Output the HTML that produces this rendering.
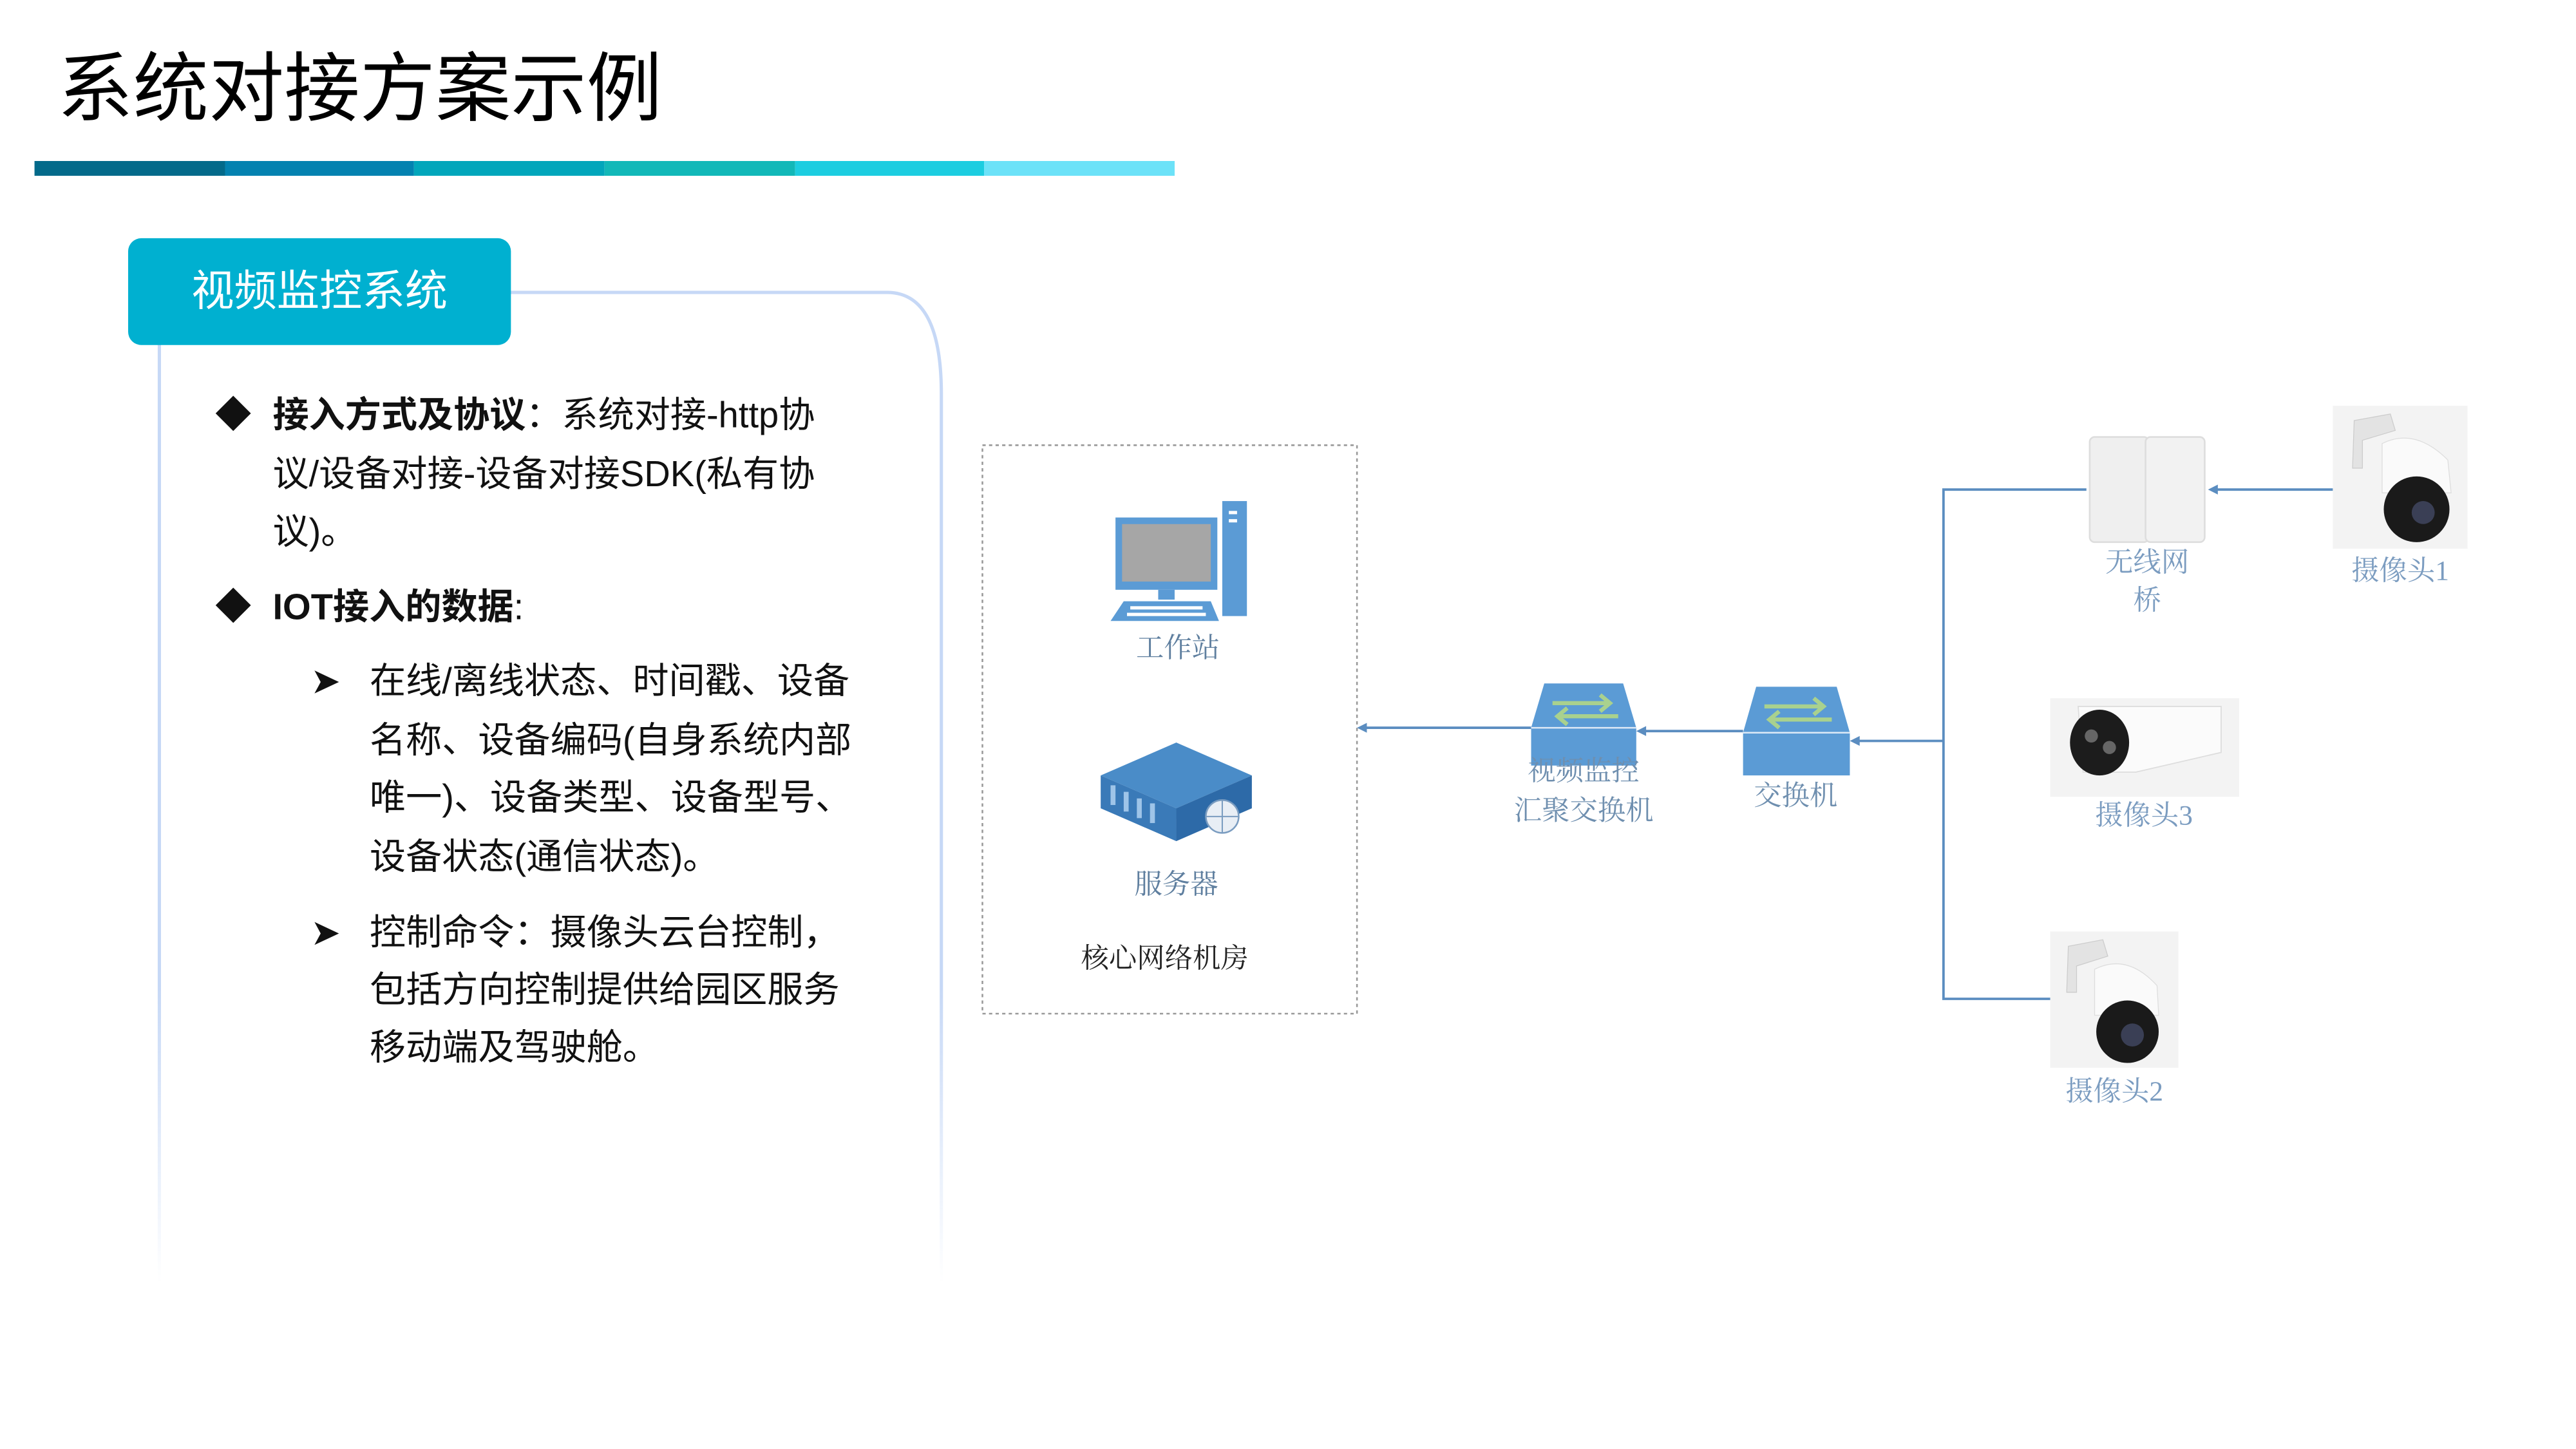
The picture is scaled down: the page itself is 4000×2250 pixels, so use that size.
<!DOCTYPE html>
<html><head><meta charset="utf-8">
<style>
html,body{margin:0;padding:0;background:#fff;width:4000px;height:2250px;overflow:hidden}
#c{position:absolute;left:0;top:0;width:1555px;height:875px;transform:scale(2.551);transform-origin:0 0;font-family:"Liberation Sans","Noto Sans CJK SC",sans-serif}
.a{position:absolute;white-space:nowrap}
.t{font-size:22px;color:#111;line-height:26px}
.lb{font-family:"Liberation Serif","Noto Serif CJK SC",serif;font-size:17px;color:#7b9cc0;text-align:center;line-height:22px}
</style></head><body><div id="c">
<div class="a" style="left:35px;top:26px;font-size:46px;line-height:56px;color:#000">系统对接方案示例</div>
<div class="a" style="left:21px;top:98px;height:9px;width:694px;display:flex">
<div style="flex:1;background:#036A8A"></div><div style="flex:1;background:#0382B0"></div><div style="flex:1;background:#02A6BB"></div><div style="flex:1;background:#12B8B8"></div><div style="flex:1;background:#1CCDE0"></div><div style="flex:1;background:#6CE2F8"></div></div>

<svg class="a" style="left:0;top:0" width="1555" height="875">
<defs><linearGradient id="fd" gradientUnits="userSpaceOnUse" x1="0" y1="178" x2="0" y2="780"><stop offset="0.7" stop-color="#c6d8f6"/><stop offset="1" stop-color="#c6d8f6" stop-opacity="0"/></linearGradient></defs>
<path d="M300 178 H540 Q573 178 573 240 V780" fill="none" stroke="url(#fd)" stroke-width="2"/>
<path d="M97 205 V780" fill="none" stroke="url(#fd)" stroke-width="2"/>
<rect x="598" y="271" width="228" height="346" fill="none" stroke="#999" stroke-width="1" stroke-dasharray="2,2"/>
<g stroke="#5b8dc0" stroke-width="1.5" fill="none">
<path d="M932 443 H830"/><path d="M1061 445 H1000"/><path d="M1183 451 H1130"/>
<path d="M1270 298 H1183 V608 H1248"/><path d="M1420 298 H1348"/>
</g>
<g fill="#5b8dc0">
<path d="M826 443 l6 -3 v6z"/><path d="M996 445 l6 -3 v6z"/><path d="M1126 451 l6 -3 v6z"/><path d="M1344 298 l6 -3 v6z"/>
</g>
<rect x="744" y="305" width="15" height="70" fill="#5b9bd5"/>
<rect x="748" y="311" width="5" height="2" fill="#fff"/><rect x="748" y="316" width="5" height="2" fill="#fff"/>
<rect x="679" y="315" width="62" height="44" fill="#5b9bd5"/>
<rect x="683" y="319" width="54" height="35" fill="#a6a6a6"/>
<rect x="705" y="359" width="10" height="6" fill="#5b9bd5"/>
<path d="M684 366 H737 L742 378 H676Z" fill="#5b9bd5"/>
<g fill="#fff"><rect x="688" y="369" width="44" height="2"/><rect x="686" y="373" width="48" height="2"/></g>
<path d="M670 472 L716 452 L762 472 L716 492Z" fill="#4a8cc8"/>
<path d="M670 472 L716 492 V512 L670 492Z" fill="#3a7ab8"/>
<path d="M716 492 L762 472 V492 L716 512Z" fill="#2d6aa8"/>
<g fill="#9ec4e8"><rect x="676" y="478" width="3" height="12"/><rect x="684" y="482" width="3" height="12"/><rect x="692" y="486" width="3" height="12"/><rect x="700" y="489" width="3" height="12"/></g>
<circle cx="744" cy="497" r="10" fill="#e8eef5" stroke="#7a9cc0"/>
<path d="M734 497 H754 M744 487 V507" stroke="#7a9cc0" stroke-width="0.8"/>
<path d="M940 416 H988 L996 443 H932Z" fill="#5b9bd5"/>
<rect x="932" y="443" width="64" height="23" fill="#5b9bd5"/>
<line x1="932" y1="443" x2="996" y2="443" stroke="#dde9f6" stroke-width="1"/>
<g stroke="#a9d18e" stroke-width="2.5" fill="none"><path d="M945 428 H980 M974 423 L980 428 L974 433"/><path d="M985 436 H948 M954 431 L948 436 L954 441"/></g>
<path d="M1069 418 H1118 L1126 446 H1061Z" fill="#5b9bd5"/>
<rect x="1061" y="446" width="65" height="26" fill="#5b9bd5"/>
<line x1="1061" y1="446" x2="1126" y2="446" stroke="#dde9f6" stroke-width="1"/>
<g stroke="#a9d18e" stroke-width="2.5" fill="none"><path d="M1074 430 H1110 M1104 425 L1110 430 L1104 435"/><path d="M1115 438 H1077 M1083 433 L1077 438 L1083 443"/></g>
<rect x="1272" y="266" width="36" height="64" rx="3" fill="#efefef" stroke="#ddd"/>
<rect x="1306" y="266" width="36" height="64" rx="3" fill="#f2f2f2" stroke="#ddd"/>
<rect x="1420" y="247" width="82" height="87" fill="#f3f3f3"/>
<path d="M1433 256 L1455 252 L1458 262 L1438 268 L1438 285 L1432 285Z" fill="#e3e3e3" stroke="#ccc" stroke-width="0.5"/>
<path d="M1450 270 Q1470 260 1490 280 L1492 300 H1450Z" fill="#fafafa" stroke="#ddd" stroke-width="0.5"/>
<circle cx="1471" cy="310" r="20" fill="#1a1a1a"/><circle cx="1475" cy="312" r="7" fill="#3a3f55"/>
<rect x="1248" y="425" width="115" height="60" fill="#f3f3f3"/>
<path d="M1265 430 H1352 V458 L1300 470 H1268Z" fill="#fbfbfb" stroke="#ddd" stroke-width="0.7"/>
<ellipse cx="1278" cy="452" rx="18" ry="20" fill="#1c1c1c"/>
<circle cx="1273" cy="448" r="4" fill="#666"/><circle cx="1284" cy="455" r="4" fill="#666"/>
<rect x="1248" y="567" width="78" height="83" fill="#f3f3f3"/>
<path d="M1259 576 L1280 572 L1283 582 L1264 588 L1264 604 L1258 604Z" fill="#e3e3e3" stroke="#ccc" stroke-width="0.5"/>
<path d="M1275 590 Q1295 580 1313 600 L1314 618 H1275Z" fill="#fafafa" stroke="#ddd" stroke-width="0.5"/>
<circle cx="1295" cy="628" r="19" fill="#1a1a1a"/><circle cx="1298" cy="630" r="7" fill="#3a3f55"/>
</svg>

<div class="a" style="left:78px;top:145px;width:233px;height:65px;background:#00b0d0;border-radius:8px;color:#fff;font-size:26px;line-height:65px;text-align:center">视频监控系统</div>

<div class="a t" style="left:131px;top:240px">◆</div>
<div class="a t" style="left:166px;top:240px"><b>接入方式及协议</b>：系统对接-http协</div>
<div class="a t" style="left:166px;top:276px">议/设备对接-设备对接SDK(私有协</div>
<div class="a t" style="left:166px;top:311px">议)。</div>
<div class="a t" style="left:131px;top:357px">◆</div>
<div class="a t" style="left:166px;top:357px"><b>IOT接入的数据</b>:</div>
<div class="a t" style="left:189px;top:402px">➤</div>
<div class="a t" style="left:225px;top:402px">在线/离线状态、时间戳、设备</div>
<div class="a t" style="left:225px;top:438px">名称、设备编码(自身系统内部</div>
<div class="a t" style="left:225px;top:473px">唯一)、设备类型、设备型号、</div>
<div class="a t" style="left:225px;top:509px">设备状态(通信状态)。</div>
<div class="a t" style="left:189px;top:555px">➤</div>
<div class="a t" style="left:225px;top:555px">控制命令：摄像头云台控制，</div>
<div class="a t" style="left:225px;top:590px">包括方向控制提供给园区服务</div>
<div class="a t" style="left:225px;top:625px">移动端及驾驶舱。</div>

<div class="a lb" style="left:667px;top:384px;width:100px;color:#5f7f9f">工作站</div>
<div class="a lb" style="left:666px;top:528px;width:100px;color:#5f7f9f">服务器</div>
<div class="a lb" style="left:639px;top:573px;width:140px;color:#222">核心网络机房</div>
<div class="a lb" style="left:904px;top:459px;width:120px;color:#6f8faf">视频监控</div>
<div class="a lb" style="left:904px;top:483px;width:120px;color:#6f8faf">汇聚交换机</div>
<div class="a lb" style="left:1043px;top:474px;width:100px;color:#6f8faf">交换机</div>
<div class="a lb" style="left:1257px;top:332px;width:100px">无线网</div>
<div class="a lb" style="left:1257px;top:355px;width:100px">桥</div>
<div class="a lb" style="left:1411px;top:337px;width:100px">摄像头1</div>
<div class="a lb" style="left:1255px;top:486px;width:100px">摄像头3</div>
<div class="a lb" style="left:1237px;top:654px;width:100px">摄像头2</div>
</div></body></html>
